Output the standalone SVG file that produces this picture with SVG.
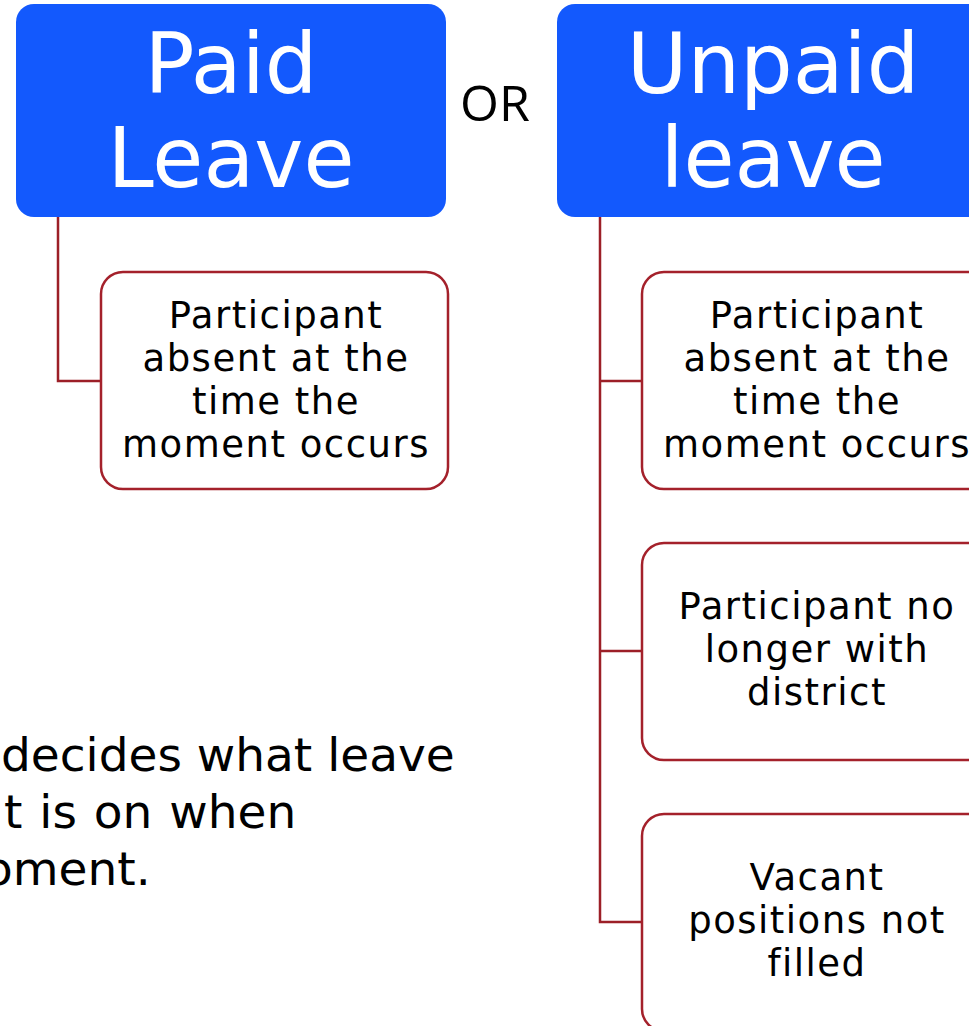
<svg xmlns="http://www.w3.org/2000/svg" width="969" height="1026" viewBox="0 0 969 1026">
<style>
.hdr{fill:#1359fd}
.hdrt{fill:#fff;font-family:"DejaVu Sans",sans-serif;font-size:83px;text-anchor:middle}
.child{fill:#fff;stroke:#a4212b;stroke-width:2.5}
.ct{fill:#000;font-family:"DejaVu Sans",sans-serif;font-size:37px;letter-spacing:1.5px;text-anchor:middle}
.conn{fill:none;stroke:#9c1f27;stroke-width:2.5}
.body{fill:#000;font-family:"DejaVu Sans",sans-serif;font-size:47px}
</style>
<rect width="969" height="1026" fill="#fff"/>
<g id="connectors">
<path class="conn" d="M58,217 V381 H101"/>
<path class="conn" d="M600,217 V922 H642 M600,381 H642 M600,651 H642"/>
</g>
<g id="paid">
<rect class="hdr" x="16" y="4" width="430" height="213" rx="18"/>
<text class="hdrt" x="231" y="93">Paid</text>
<text class="hdrt" x="231" y="187">Leave</text>
</g>
<g id="or">
<text x="495" y="121" style="font-family:'Open Sans',sans-serif;font-size:50px;text-anchor:middle">OR</text>
</g>
<g id="unpaid">
<rect class="hdr" x="557" y="4" width="432" height="213" rx="18"/>
<text class="hdrt" x="773" y="93">Unpaid</text>
<text class="hdrt" x="773" y="187">leave</text>
</g>
<g id="paid-absent">
<rect class="child" x="101" y="272" width="347" height="217" rx="22"/>
<text class="ct" x="276" y="328">Participant</text>
<text class="ct" x="276" y="371">absent at the</text>
<text class="ct" x="276" y="414">time the</text>
<text class="ct" x="276" y="457">moment occurs</text>
</g>
<g id="unpaid-absent">
<rect class="child" x="642" y="272" width="347" height="217" rx="22"/>
<text class="ct" x="817" y="328">Participant</text>
<text class="ct" x="817" y="371">absent at the</text>
<text class="ct" x="817" y="414">time the</text>
<text class="ct" x="817" y="457">moment occurs</text>
</g>
<g id="unpaid-nolonger">
<rect class="child" x="642" y="543" width="347" height="217" rx="22"/>
<text class="ct" x="817" y="619">Participant no</text>
<text class="ct" x="817" y="662">longer with</text>
<text class="ct" x="817" y="705">district</text>
</g>
<g id="unpaid-vacant">
<rect class="child" x="642" y="814" width="347" height="217" rx="22"/>
<text class="ct" x="817" y="890">Vacant</text>
<text class="ct" x="817" y="933">positions not</text>
<text class="ct" x="817" y="976">filled</text>
</g>
<g id="note">
<text class="body" x="1" y="771">decides what leave</text>
<text class="body" x="4" y="828" word-spacing="2">t is on when</text>
<text class="body" x="-16" y="885">oment.</text>
</g>
</svg>
